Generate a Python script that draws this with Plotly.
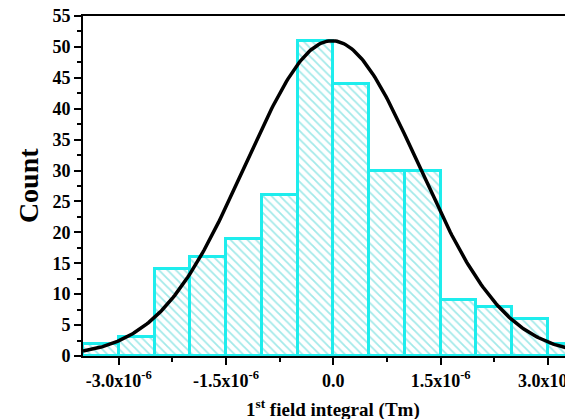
import numpy as np
import plotly.graph_objects as go

# ---- data ----
bin_centers = [-3.25e-6, -2.75e-6, -2.25e-6, -1.75e-6, -1.25e-6, -0.75e-6, -0.25e-6,
               0.25e-6, 0.75e-6, 1.25e-6, 1.75e-6, 2.25e-6, 2.75e-6, 3.25e-6]
counts = [2, 3, 14, 16, 19, 26, 51, 44, 30, 30, 9, 8, 6, 2]
bin_width = 0.5e-6

fit_amplitude = 51.0
fit_mean = -0.02e-6
fit_sigma = 1.21e-6

x_tick_vals = [-3.0e-6, -1.5e-6, 0.0, 1.5e-6, 3.0e-6]
x_tick_text = ["-3.0x10<sup>-6</sup>", "-1.5x10<sup>-6</sup>", "0.0",
               "1.5x10<sup>-6</sup>", "3.0x10<sup>-6</sup>"]
y_tick_vals = [0, 5, 10, 15, 20, 25, 30, 35, 40, 45, 50, 55]

x_lo, x_hi = -3.5e-6, 3.35e-6

fit_x = np.linspace(x_lo, x_hi, 300)
fit_y = fit_amplitude * np.exp(-((fit_x - fit_mean) ** 2) / (2 * fit_sigma ** 2))

FONT = "Liberation Serif, Times New Roman, serif"
CYAN = "#1EEDED"

fig = go.Figure()
fig.add_trace(go.Bar(
    x=bin_centers, y=counts, width=bin_width,
    marker=dict(
        color="white",
        line=dict(color=CYAN, width=3),
        pattern=dict(shape="\\", fgcolor="#45D3D3", bgcolor="white",
                     size=6, solidity=0.3, fillmode="overlay"),
    ),
    showlegend=False,
))
fig.add_trace(go.Scatter(
    x=fit_x, y=fit_y, mode="lines",
    line=dict(color="black", width=3.5),
    showlegend=False,
))

# page body adds an 8px margin, so the figure is sized 8px smaller
fig.update_layout(
    width=565, height=411,
    margin=dict(l=75, r=0, t=8, b=63, autoexpand=False),
    paper_bgcolor="white", plot_bgcolor="white",
    bargap=0,
    font=dict(family=FONT, color="black"),
    annotations=[
        dict(text="1<sup>st</sup> field integral (Tm)", xref="paper", yref="paper",
             x=0.51, y=-0.155, xanchor="center", yanchor="middle", showarrow=False,
             font=dict(family=FONT, size=19, color="black", weight="bold")),
        dict(text="Count", xref="paper", yref="paper",
             x=-0.112, y=0.5, xanchor="center", yanchor="middle", showarrow=False,
             textangle=-90,
             font=dict(family=FONT, size=28, color="black", weight="bold")),
    ],
)
fig.update_xaxes(
    range=[x_lo, x_hi], automargin=False,
    tickvals=x_tick_vals, ticktext=x_tick_text,
    ticklabeloverflow="allow",
    tickfont=dict(family=FONT, size=18, color="black", weight="bold"),
    ticks="outside", ticklen=7, tickwidth=1.5, tickcolor="black",
    minor=dict(dtick=0.75e-6, tick0=0, ticks="outside", ticklen=4,
               tickwidth=1.5, tickcolor="black", showgrid=False),
    showline=True, linecolor="black", linewidth=2, mirror=True,
    showgrid=False, zeroline=False,
)
fig.update_yaxes(
    range=[0, 55], automargin=False,
    tickvals=y_tick_vals,
    ticklabeloverflow="allow",
    tickfont=dict(family=FONT, size=18, color="black", weight="bold"),
    ticks="outside", ticklen=7, tickwidth=1.5, tickcolor="black",
    minor=dict(dtick=2.5, ticks="outside", ticklen=4, tickwidth=1.5,
               tickcolor="black", showgrid=False),
    showline=True, linecolor="black", linewidth=2,
    showgrid=False, zeroline=False,
)

fig.write_html("out.html")
